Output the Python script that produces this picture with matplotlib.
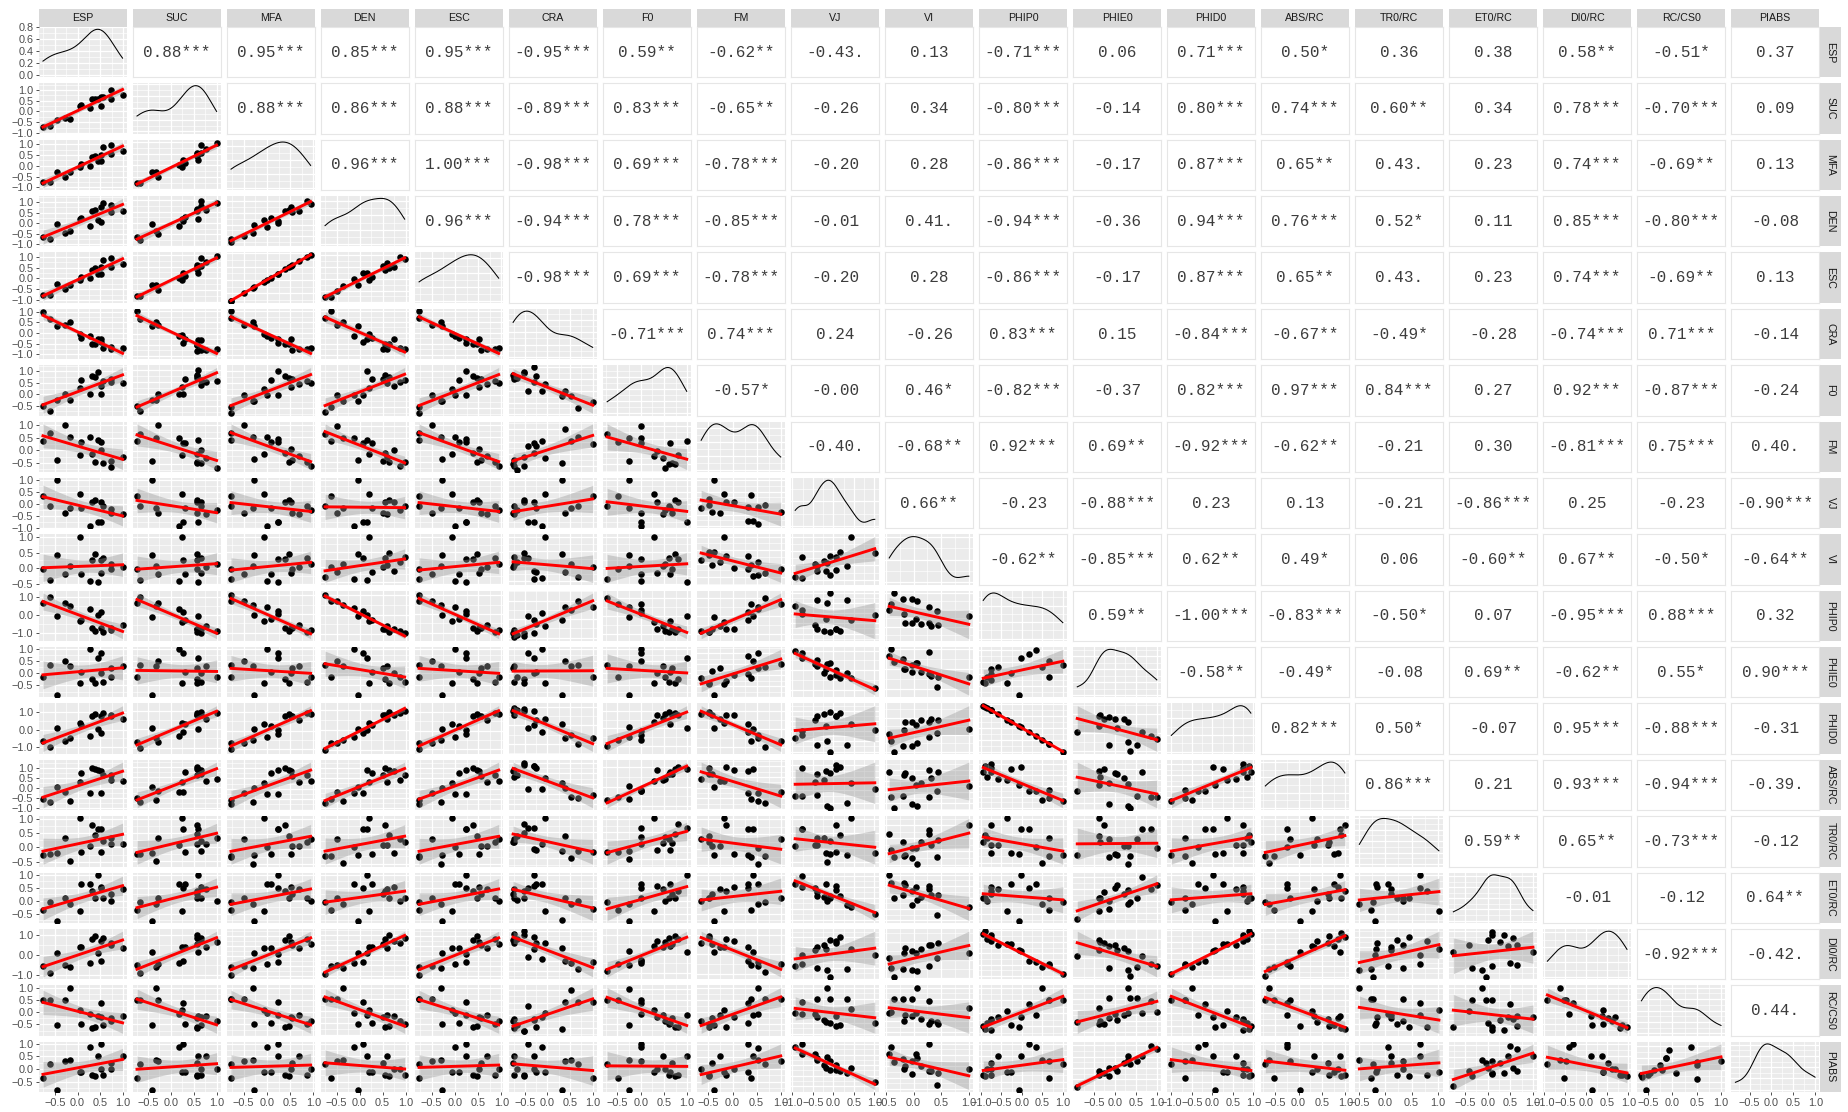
import numpy as np
import matplotlib
matplotlib.use("Agg")
import matplotlib.pyplot as plt
from matplotlib.patches import Rectangle
from matplotlib.ticker import MaxNLocator, AutoMinorLocator, FuncFormatter

plt.rcParams["font.family"] = ["Liberation Sans", "DejaVu Sans"]

# scaled trait values, one entry per sample (same sample order in every list)
labels = ["ESP", "SUC", "MFA", "DEN", "ESC", "CRA", "F0", "FM", "VJ", "VI",
          "PHIP0", "PHIE0", "PHID0", "ABS/RC", "TR0/RC", "ET0/RC", "DI0/RC",
          "RC/CS0", "PIABS"]

esp = [-0.76, -0.60, -0.45, -0.28, -0.16, 0.06, 0.08, 0.28, 0.31, 0.39, 0.44, 0.52, 0.52, 0.57, 0.74, 0.74, 0.99]
suc = [-0.74, -0.68, -0.41, -0.29, -0.33, 0.24, 0.32, 0.17, 0.58, 0.58, 0.60, 0.27, 0.65, 0.67, 1.00, 0.58, 0.76]
mfa = [-0.77, -0.77, -0.27, -0.50, -0.30, -0.06, 0.09, 0.00, 0.39, 0.47, 0.23, 0.23, 0.52, 0.86, 0.94, 0.55, 0.69]
den = [-0.63, -0.75, -0.03, -0.48, -0.35, 0.20, 0.27, -0.11, 0.56, 0.63, 0.16, 0.08, 0.75, 0.98, 0.87, 0.52, 0.59]
esc = [-0.77, -0.77, -0.27, -0.50, -0.30, -0.06, 0.09, 0.00, 0.39, 0.47, 0.23, 0.23, 0.52, 0.86, 0.94, 0.55, 0.69]
cra = [1.00, 0.67, 0.32, 0.38, 0.51, -0.05, -0.25, -0.13, -0.52, -0.52, -0.29, -0.44, -0.29, -0.73, -0.68, -0.76, -0.73]
f0 = [-0.49, -0.72, -0.24, 0.00, -0.24, 0.28, 0.64, 0.00, 0.81, 0.74, 0.99, 0.00, 0.36, 0.60, 0.53, 0.67, 0.49]
fm = [0.39, 0.68, -0.39, 1.00, 0.52, -0.17, 0.32, 0.52, -0.13, -0.48, 0.42, 0.32, 0.03, -0.49, -0.65, -0.43, -0.26]
vj = [0.34, -0.07, 1.01, -0.39, -0.15, 0.42, -0.18, -0.93, 0.07, 0.17, -0.77, -0.77, 0.07, -0.07, -0.23, -0.39, -0.44]
vi = [-0.03, -0.35, 0.42, -0.19, 0.07, 1.00, -0.18, -0.40, 0.28, 0.45, -0.44, 0.28, -0.16, 0.32, 0.14, -0.03, 0.05]
phip0 = [0.67, 1.00, -0.07, 0.67, 0.50, -0.35, -0.26, 0.35, -0.76, -0.89, -0.02, 0.17, -0.76, -0.94, -0.85, -0.76, -0.57]
phie0 = [-0.14, 0.37, -0.90, 0.53, 0.31, -0.38, 0.04, 1.00, -0.25, -0.39, 0.65, 0.86, 0.00, -0.35, -0.14, 0.21, 0.31]
phid0 = [-0.67, -1.00, 0.07, -0.67, -0.50, 0.35, 0.26, -0.35, 0.76, 0.89, 0.02, -0.17, 0.76, 0.94, 0.85, 0.76, 0.57]
abs_rc = [-0.53, -0.71, 0.03, -0.19, -0.63, 0.29, 0.76, -0.24, 0.99, 0.91, 0.88, -0.24, 0.84, 0.65, 0.40, 0.62, 0.32]
tr0_rc = [-0.26, -0.23, -0.20, 0.34, -0.49, 1.02, -0.17, 0.06, 0.80, 0.45, 0.66, 0.66, -0.15, 0.23, 0.34, 0.11, 0.11]
et0_rc = [-0.35, -0.03, -0.76, 0.10, -0.13, -0.41, 0.64, 0.64, 0.36, 0.10, 1.00, 0.49, 0.55, 0.10, 0.01, 0.27, 0.45]
di0_rc = [-0.53, -0.92, 0.13, -0.48, -0.61, 0.40, 0.40, -0.40, 0.81, 0.97, 0.11, -0.32, 0.69, 0.85, 0.61, 0.53, 0.37]
rc_cs0 = [0.51, 0.51, -0.54, 0.51, 1.00, 0.08, -0.47, -0.08, -0.64, -0.62, -0.14, 0.38, -0.21, -0.51, -0.38, -0.25, -0.14]
piabs = [-0.36, 0.20, -0.82, 0.33, 0.37, -0.13, -0.13, 0.86, -0.22, -0.29, 0.53, 0.99, 0.00, -0.22, 0.00, 0.24, 0.53]

series = [esp, suc, mfa, den, esc, cra, f0, fm, vj, vi, phip0, phie0, phid0,
          abs_rc, tr0_rc, et0_rc, di0_rc, rc_cs0, piabs]

# Pearson r with significance stars, row i holds the pairs (i, j) for j > i
cor_text = [
    ["0.88***", "0.95***", "0.85***", "0.95***", "-0.95***", "0.59**", "-0.62**", "-0.43.", "0.13", "-0.71***", "0.06", "0.71***", "0.50*", "0.36", "0.38", "0.58**", "-0.51*", "0.37"],
    ["0.88***", "0.86***", "0.88***", "-0.89***", "0.83***", "-0.65**", "-0.26", "0.34", "-0.80***", "-0.14", "0.80***", "0.74***", "0.60**", "0.34", "0.78***", "-0.70***", "0.09"],
    ["0.96***", "1.00***", "-0.98***", "0.69***", "-0.78***", "-0.20", "0.28", "-0.86***", "-0.17", "0.87***", "0.65**", "0.43.", "0.23", "0.74***", "-0.69**", "0.13"],
    ["0.96***", "-0.94***", "0.78***", "-0.85***", "-0.01", "0.41.", "-0.94***", "-0.36", "0.94***", "0.76***", "0.52*", "0.11", "0.85***", "-0.80***", "-0.08"],
    ["-0.98***", "0.69***", "-0.78***", "-0.20", "0.28", "-0.86***", "-0.17", "0.87***", "0.65**", "0.43.", "0.23", "0.74***", "-0.69**", "0.13"],
    ["-0.71***", "0.74***", "0.24", "-0.26", "0.83***", "0.15", "-0.84***", "-0.67**", "-0.49*", "-0.28", "-0.74***", "0.71***", "-0.14"],
    ["-0.57*", "-0.00", "0.46*", "-0.82***", "-0.37", "0.82***", "0.97***", "0.84***", "0.27", "0.92***", "-0.87***", "-0.24"],
    ["-0.40.", "-0.68**", "0.92***", "0.69**", "-0.92***", "-0.62**", "-0.21", "0.30", "-0.81***", "0.75***", "0.40."],
    ["0.66**", "-0.23", "-0.88***", "0.23", "0.13", "-0.21", "-0.86***", "0.25", "-0.23", "-0.90***"],
    ["-0.62**", "-0.85***", "0.62**", "0.49*", "0.06", "-0.60**", "0.67**", "-0.50*", "-0.64**"],
    ["0.59**", "-1.00***", "-0.83***", "-0.50*", "0.07", "-0.95***", "0.88***", "0.32"],
    ["-0.58**", "-0.49*", "-0.08", "0.69**", "-0.62**", "0.55*", "0.90***"],
    ["0.82***", "0.50*", "-0.07", "0.95***", "-0.88***", "-0.31"],
    ["0.86***", "0.21", "0.93***", "-0.94***", "-0.39."],
    ["0.59**", "0.65**", "-0.73***", "-0.12"],
    ["-0.01", "-0.12", "0.64**"],
    ["-0.92***", "-0.42."],
    ["0.44."],
]

T975 = 2.1314  # t quantile, 15 degrees of freedom
K = len(labels)

PANEL_BG = "#EBEBEB"
TICK_COLOR = "#4D4D4D"


def expand(lo, hi, mult=0.05):
    span = hi - lo
    return lo - mult * span, hi + mult * span


def kde(v, npts=256):
    v = np.asarray(v, dtype=float)
    n = len(v)
    sd = v.std(ddof=1)
    q75, q25 = np.percentile(v, [75, 25])
    bw = 0.9 * min(sd, (q75 - q25) / 1.34) * n ** -0.2
    grid = np.linspace(v.min(), v.max(), npts)
    d = np.exp(-0.5 * ((grid[:, None] - v[None, :]) / bw) ** 2).sum(axis=1)
    return grid, d / (n * bw * np.sqrt(2 * np.pi))


def fmt(v, _pos):
    if abs(v) < 1e-9:
        v = 0.0
    return f"{v:.1f}".replace("-", "\u2212")


def grey_panel(ax):
    ax.set_facecolor(PANEL_BG)
    for s in ax.spines.values():
        s.set_visible(False)
    for axis in (ax.xaxis, ax.yaxis):
        axis.set_major_locator(MaxNLocator(nbins=5, steps=[1, 2, 5, 10]))
        axis.set_minor_locator(AutoMinorLocator(2))
        axis.set_major_formatter(FuncFormatter(fmt))
    ax.grid(which="major", color="white", lw=0.9)
    ax.grid(which="minor", color="white", lw=0.45)
    ax.set_axisbelow(True)


fig, axes = plt.subplots(
    K, K, figsize=(18.48, 11.12), dpi=100,
    gridspec_kw=dict(left=39 / 1848, right=1819 / 1848,
                     top=1 - 27 / 1112, bottom=20 / 1112,
                     wspace=0.074, hspace=0.119),
)
fig.patch.set_facecolor("white")

for i in range(K):
    for j in range(K):
        ax = axes[i, j]
        ax.tick_params(which="both", length=0, labelleft=False, labelbottom=False)
        if i < j:
            # correlation cell
            ax.set_facecolor("white")
            for s in ax.spines.values():
                s.set_color("#E6E6E6")
                s.set_linewidth(0.8)
            ax.set_xticks([])
            ax.set_yticks([])
            ax.text(0.5, 0.5, cor_text[i][j - i - 1], ha="center", va="center",
                    family="Liberation Mono", fontsize=11.5, color="#3C3C3C",
                    transform=ax.transAxes)
            continue

        grey_panel(ax)
        x = np.asarray(series[j], dtype=float)
        if i == j:
            gx, gd = kde(x)
            ax.plot(gx, gd, color="black", lw=0.75)
            ax.set_xlim(*expand(x.min(), x.max()))
            ax.set_ylim(*expand(0.0, gd.max()))
        else:
            y = np.asarray(series[i], dtype=float)
            n = len(x)
            slope, icpt = np.polyfit(x, y, 1)
            xs = np.linspace(x.min(), x.max(), 80)
            yhat = icpt + slope * xs
            resid = y - (icpt + slope * x)
            s = np.sqrt((resid ** 2).sum() / (n - 2))
            sxx = ((x - x.mean()) ** 2).sum()
            se = s * np.sqrt(1.0 / n + (xs - x.mean()) ** 2 / sxx)
            lo, hi = yhat - T975 * se, yhat + T975 * se
            ax.scatter(x, y, s=22, color="black", linewidths=0, zorder=2)
            ax.fill_between(xs, lo, hi, color="#999999", alpha=0.4, lw=0, zorder=3)
            ax.plot(xs, yhat, color="red", lw=2.1, zorder=4)
            ax.set_xlim(*expand(x.min(), x.max()))
            ax.set_ylim(*expand(min(y.min(), lo.min()), max(y.max(), hi.max())))

        if j == 0:
            ax.tick_params(axis="y", which="major", length=2.5, width=0.6,
                           color="#333333", labelleft=True, labelsize=7.8,
                           labelcolor=TICK_COLOR, pad=1.5)
        if i == K - 1:
            ax.tick_params(axis="x", which="major", length=2.5, width=0.6,
                           color="#333333", labelbottom=True, labelsize=7.8,
                           labelcolor=TICK_COLOR, pad=1.5)

# facet strips along the top and right edge
strip_h = 18.5 / 1112
strip_w = 21 / 1848
for j in range(K):
    pos = axes[0, j].get_position()
    fig.patches.append(Rectangle((pos.x0, pos.y1), pos.width, strip_h,
                                 transform=fig.transFigure, facecolor="#D9D9D9",
                                 edgecolor="none"))
    fig.text(pos.x0 + pos.width / 2, pos.y1 + strip_h / 2, labels[j],
             ha="center", va="center", fontsize=7.7, color="#1A1A1A")
for i in range(K):
    pos = axes[i, K - 1].get_position()
    x0 = pos.x1 + 1 / 1848
    fig.patches.append(Rectangle((x0, pos.y0), strip_w, pos.height,
                                 transform=fig.transFigure, facecolor="#D9D9D9",
                                 edgecolor="none"))
    fig.text(x0 + strip_w / 2, pos.y0 + pos.height / 2, labels[i],
             ha="center", va="center", rotation=-90, fontsize=7.7, color="#1A1A1A")

fig.savefig("out.png", dpi=100, facecolor="white")
